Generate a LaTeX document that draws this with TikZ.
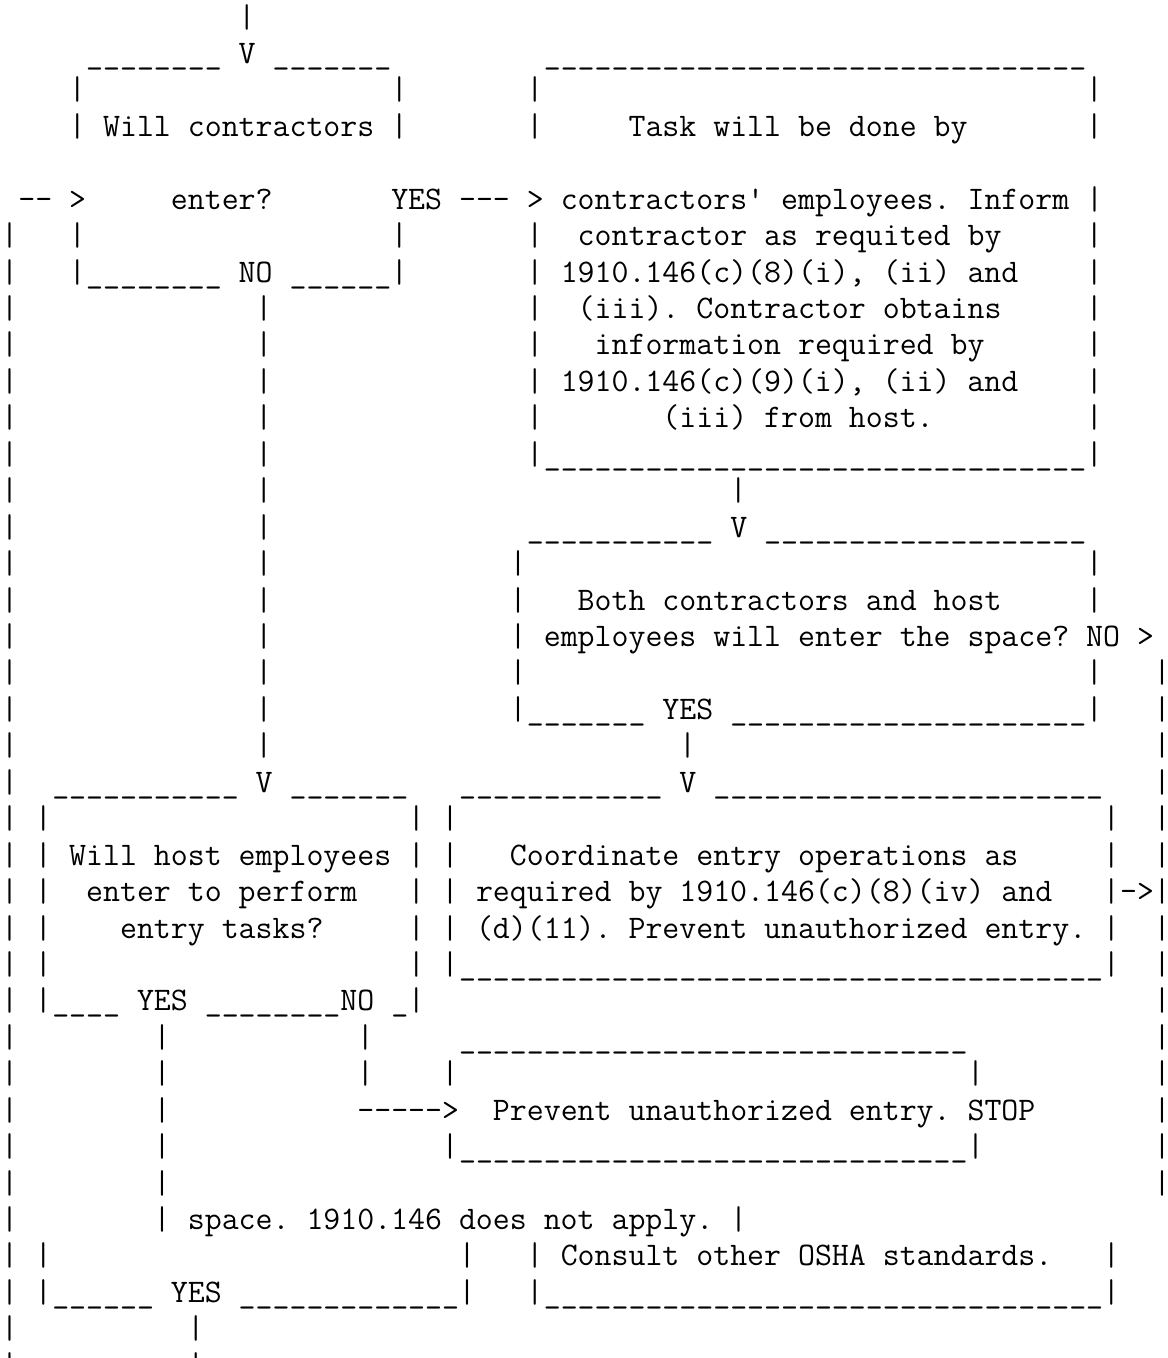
\documentclass[tikz,border=0pt]{standalone}
\usepackage{fontspec}
\newlength\chw
\newcommand\hy{-\kern0pt}
\newcommand\unds[1]{\foreach\k in {1,...,#1}{\_}}
% size of the mono font that gives a cell of 8.475pt
\AtBeginDocument{%
  \settowidth\chw{\ttfamily\fontsize{16pt}{16pt}\selectfont MMMMMMMMMM}%
  \pgfmathsetmacro{\fsz}{16*84.75/\chw}}
\begin{document}
\begin{tikzpicture}[x=8.475pt,y=-18.22pt,
  ascii/.style={font=\ttfamily\frenchspacing\fontsize{\fsz pt}{\fsz pt}\selectfont,
    inner sep=0pt,anchor=base west},
  stroke/.style={ascii,anchor=base}]
  % one column = one character cell, one row = one text line
  \useasboundingbox (-0.5605,-0.741) rectangle (68.29,36.526);
  % vertical strokes: column / first row / last row
  \foreach \c/\ra/\rb in {0/6/37, 14/0/0, 4/2/3, 4/6/7, 23/2/3, 23/6/7,
      31/2/3, 31/6/12, 64/2/3, 64/6/12, 64/15/16, 64/18/19, 15/8/20,
      43/13/13, 30/15/19, 68/18/32, 40/20/20, 2/22/27, 2/34/35, 24/22/27,
      26/22/26, 26/29/29, 26/31/31, 65/22/26, 65/34/35, 9/28/33,
      21/28/29, 57/29/29, 57/31/31, 27/34/35, 31/34/35, 11/36/37}{
    \foreach \r in {\ra,...,\rb}
      \node[stroke] (bar-\c-\r) at (\c,\r) {\makebox[0pt]{|}};
  }
  % underscore runs: first column / row / length
  \foreach \c/\r/\n in {5/1/8, 16/1/7, 32/1/32, 5/7/8, 17/7/6, 32/12/32,
      31/14/11, 45/14/19, 31/19/7, 43/19/21, 3/21/11, 17/21/7, 27/21/12,
      42/21/23, 27/26/38, 3/27/4, 12/27/8, 23/27/1, 27/28/30, 27/31/30,
      3/35/6, 14/35/13, 32/35/33}
    \node[ascii] (rule-\c-\r) at (\c-0.5,\r) {\unds{\n}};
  % words and arrow heads
  \foreach \c/\r/\t in {14/1/V, 6/3/Will contractors,
      37/3/Task will be done by, 1/5/{\hy\hy{} >}, 10/5/enter?,
      23/5/{YES \hy\hy\hy{} >},
      33/5/{contractors\textquotesingle{} employees. Inform |},
      34/6/contractor as requited by, 14/7/NO,
      33/7/{1910.146(c)(8)(i), (ii) and}, 34/8/{(iii). Contractor obtains},
      35/9/information required by, 33/10/{1910.146(c)(9)(i), (ii) and},
      39/11/{(iii) from host.}, 43/14/V, 34/16/Both contractors and host,
      32/17/{employees will enter the space? NO >}, 39/19/YES,
      15/21/V, 40/21/V, 4/23/Will host employees,
      30/23/Coordinate entry operations as, 5/24/enter to perform,
      28/24/{required by 1910.146(c)(8)(iv) and}, 66/24/{\hy>},
      7/25/entry tasks?, 28/25/{(d)(11). Prevent unauthorized entry.},
      8/27/YES, 20/27/NO, 21/30/{\hy\hy\hy\hy\hy>},
      29/30/Prevent unauthorized entry. STOP,
      11/33/{space. 1910.146 does not apply. |},
      33/34/Consult other OSHA standards., 10/35/YES}
    \node[ascii] (txt-\c-\r) at (\c-0.5,\r) {\t};
\end{tikzpicture}
\end{document}
